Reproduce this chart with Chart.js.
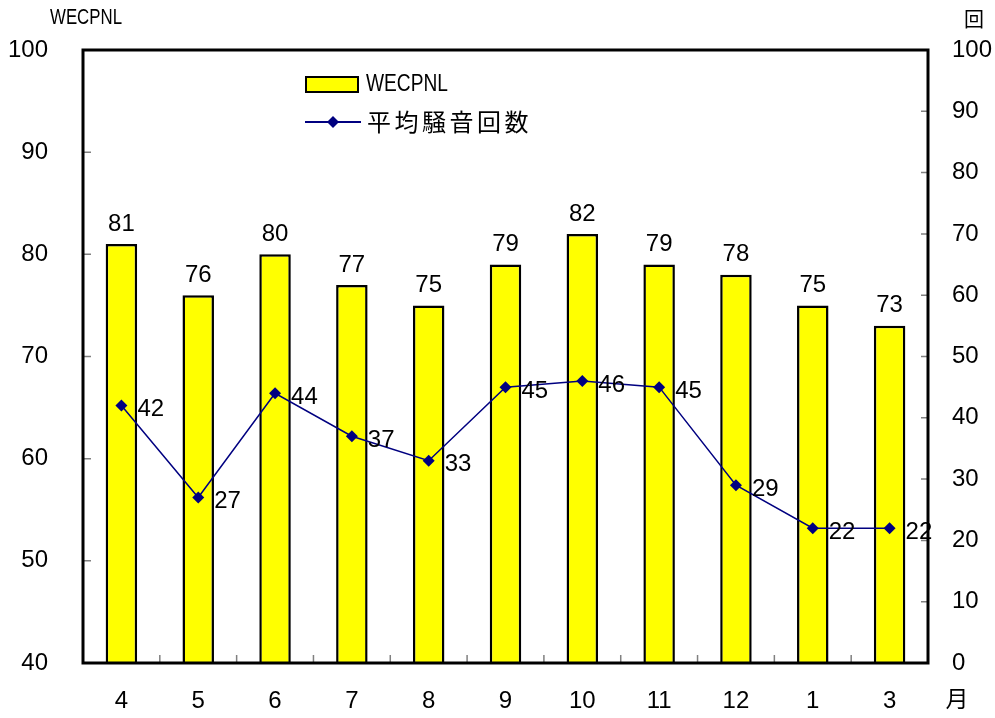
<!DOCTYPE html>
<html>
<head>
<meta charset="utf-8">
<script src="https://cdn.jsdelivr.net/npm/chart.js@4"></script>
<style>
  body { margin: 0; background: #fff; }
  #wrap { width: 995px; height: 718px; }
</style>
</head>
<body>
<div id="wrap"><canvas id="noiseChart" width="995" height="718"></canvas></div>
<script>
// data
const months = ['4', '5', '6', '7', '8', '9', '10', '11', '12', '1', '3'];
const wecpnl = [81, 76, 80, 77, 75, 79, 82, 79, 78, 75, 73];
const noiseCount = [42, 27, 44, 37, 33, 45, 46, 45, 29, 22, 22];

const FONT = '"Liberation Sans", Arial, sans-serif';
const CJK = '"Noto Sans CJK JP", sans-serif';

// draws text squeezed to a given width (for the narrow font labels)
function narrowText(ctx, text, x, y, width) {
    const w = ctx.measureText(text).width;
    ctx.save();
    ctx.translate(x, y);
    ctx.scale(width / w, 1);
    ctx.fillText(text, 0, 0);
    ctx.restore();
}

const decorations = {
    id: 'decorations',
    afterDatasetsDraw(chart) {
        const ctx = chart.ctx;
        const area = chart.chartArea;
        const yL = chart.scales.y;
        const yR = chart.scales.y2;
        const x = chart.scales.x;

        // small grey tick marks pointing into the plot
        ctx.save();
        ctx.strokeStyle = '#808080';
        ctx.lineWidth = 1.5;
        ctx.beginPath();
        for (let v = 50; v < 100; v += 10) {
            const py = yL.getPixelForValue(v);
            ctx.moveTo(area.left, py);
            ctx.lineTo(area.left + 8, py);
        }
        for (let v = 10; v < 100; v += 10) {
            const py = yR.getPixelForValue(v);
            ctx.moveTo(area.right, py);
            ctx.lineTo(area.right - 7, py);
        }
        for (let i = 1; i < months.length; i++) {
            const px = (x.getPixelForValue(i - 1) + x.getPixelForValue(i)) / 2;
            ctx.moveTo(px, area.bottom);
            ctx.lineTo(px, area.bottom - 8);
        }
        ctx.stroke();
        ctx.restore();

        // value labels
        ctx.save();
        ctx.fillStyle = '#000';
        ctx.font = '24px ' + FONT;
        ctx.textBaseline = 'middle';
        ctx.textAlign = 'center';
        chart.getDatasetMeta(0).data.forEach((bar, i) => {
            ctx.fillText(wecpnl[i], bar.x, bar.y - 20);
        });
        ctx.textAlign = 'left';
        chart.getDatasetMeta(1).data.forEach((pt, i) => {
            ctx.fillText(noiseCount[i], pt.x + 16, pt.y + 4);
        });
        ctx.restore();

        // legend inside the plot
        const ds = chart.data.datasets;
        ctx.save();
        ctx.fillStyle = ds[0].backgroundColor;
        ctx.fillRect(306, 77, 52, 15);
        ctx.strokeStyle = '#000';
        ctx.lineWidth = 2;
        ctx.strokeRect(306, 77, 52, 15);
        ctx.fillStyle = '#000';
        ctx.font = '23px ' + FONT;
        ctx.textBaseline = 'middle';
        narrowText(ctx, ds[0].label, 366, 85, 82);

        ctx.strokeStyle = ds[1].borderColor;
        ctx.lineWidth = 2;
        ctx.beginPath();
        ctx.moveTo(305, 122);
        ctx.lineTo(361, 122);
        ctx.stroke();
        ctx.fillStyle = ds[1].pointBackgroundColor;
        ctx.beginPath();
        ctx.moveTo(333, 116);
        ctx.lineTo(339, 122);
        ctx.lineTo(333, 128);
        ctx.lineTo(327, 122);
        ctx.closePath();
        ctx.fill();
        ctx.fillStyle = '#000';
        ctx.font = '24px ' + CJK;
        [...ds[1].label].forEach((ch, i) => {
            ctx.fillText(ch, 367 + i * 27.5, 122);
        });
        ctx.restore();
    },
    afterDraw(chart) {
        const ctx = chart.ctx;
        const area = chart.chartArea;
        ctx.save();
        ctx.strokeStyle = '#000';
        ctx.lineWidth = 3;
        ctx.strokeRect(area.left, area.top, area.right - area.left, area.bottom - area.top);

        // axis titles
        ctx.fillStyle = '#000';
        ctx.textBaseline = 'middle';
        ctx.font = '22px ' + FONT;
        narrowText(ctx, 'WECPNL', 50, 18, 72);
        ctx.textAlign = 'center';
        ctx.font = '20px ' + CJK;
        ctx.fillText('回', 974, 19);
        ctx.font = '23px ' + CJK;
        ctx.fillText('月', 957, 698);
        ctx.restore();
    }
};

const chart = new Chart(document.getElementById('noiseChart').getContext('2d'), {
    type: 'bar',
    data: {
        labels: months,
        datasets: [{
            type: 'bar',
            label: 'WECPNL',
            data: wecpnl,
            backgroundColor: '#FFFF00',
            borderColor: '#000',
            borderWidth: 2.5,
            barPercentage: 0.41,
            categoryPercentage: 1,
            yAxisID: 'y',
            order: 1
        }, {
            type: 'line',
            label: '平均騒音回数',
            data: noiseCount,
            borderColor: '#000080',
            borderWidth: 1.5,
            pointStyle: 'rectRot',
            pointRadius: 6,
            pointBackgroundColor: '#000080',
            pointBorderColor: '#000080',
            pointBorderWidth: 0,
            tension: 0,
            yAxisID: 'y2',
            order: 0
        }]
    },
    options: {
        responsive: false,
        animation: false,
        layout: { padding: { top: 50, left: 0, right: 0, bottom: 0 } },
        plugins: {
            legend: { display: false },
            tooltip: { enabled: false }
        },
        scales: {
            x: {
                grid: { display: false, drawTicks: false },
                border: { display: false },
                ticks: { color: '#000', font: { size: 24, family: FONT }, padding: 24, maxRotation: 0 },
                afterFit(s) { s.height = 55; }
            },
            y: {
                position: 'left',
                min: 40,
                max: 100,
                grid: { display: false, drawTicks: false },
                border: { display: false },
                ticks: { stepSize: 10, color: '#000', font: { size: 24, family: FONT }, padding: 35 },
                afterFit(s) { s.width = 83; }
            },
            y2: {
                position: 'right',
                min: 0,
                max: 100,
                grid: { display: false, drawTicks: false },
                border: { display: false },
                ticks: { stepSize: 10, color: '#000', font: { size: 24, family: FONT }, padding: 24 },
                afterFit(s) { s.width = 67; }
            }
        }
    },
    plugins: [decorations]
});
</script>
</body>
</html>
